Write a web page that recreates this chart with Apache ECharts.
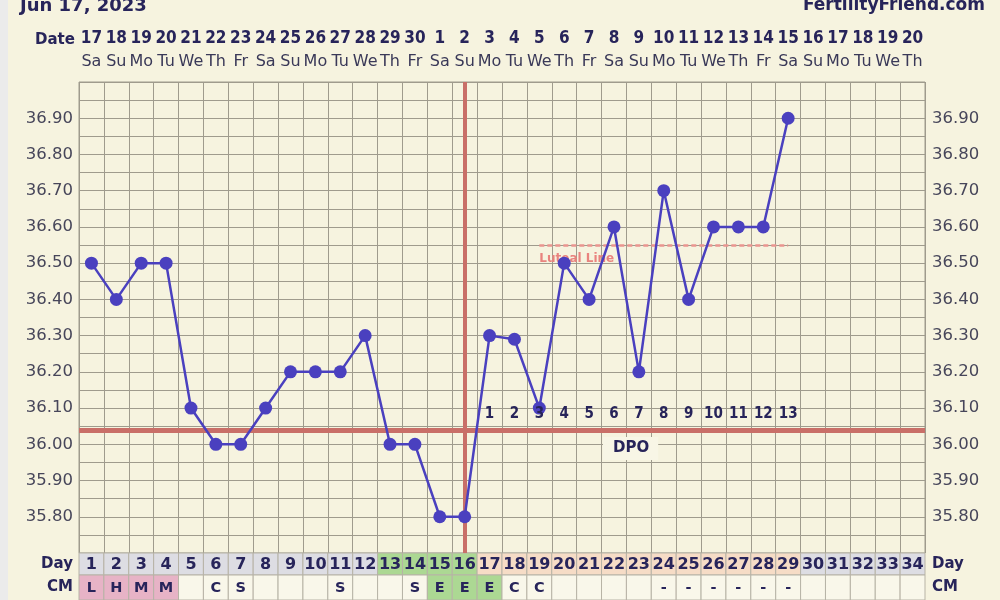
<!DOCTYPE html>
<html><head><meta charset="utf-8">
<script src="https://cdn.jsdelivr.net/npm/echarts@6/dist/echarts.min.js"></script>
<style>html,body{margin:0;padding:0;background:#f6f3df}#c{width:1000px;height:600px}</style>
</head><body><div id="c"></div>
<script>
// ---------- data ----------
const dayNumbers = ['1','2','3','4','5','6','7','8','9','10','11','12','13','14','15','16','17','18','19','20','21','22','23','24','25','26','27','28','29','30','31','32','33','34'];
const dates = ['17','18','19','20','21','22','23','24','25','26','27','28','29','30','1','2','3','4','5','6','7','8','9','10','11','12','13','14','15','16','17','18','19','20'];
const weekdays = ['Sa','Su','Mo','Tu','We','Th','Fr','Sa','Su','Mo','Tu','We','Th','Fr','Sa','Su','Mo','Tu','We','Th','Fr','Sa','Su','Mo','Tu','We','Th','Fr','Sa','Su','Mo','Tu','We','Th'];
const temps = [36.50,36.40,36.50,36.50,36.10,36.00,36.00,36.10,36.20,36.20,36.20,36.30,36.00,36.00,35.80,35.80,36.30,36.29,36.10,36.50,36.40,36.60,36.20,36.70,36.40,36.60,36.60,36.60,36.90];
const cmCodes = ['L','H','M','M','','C','S','','','','S','','','S','E','E','E','C','C','','','','','-','-','-','-','-','-','','','','',''];
const dayPhase = ['f','f','f','f','f','f','f','f','f','f','f','f','o','o','o','o','l','l','l','l','l','l','l','l','l','l','l','l','l','n','n','n','n','n'];
const coverline = 36.04;
const ovulationDay = '16';
const lutealLevel = 36.55;
const lutealFrom = '19';
const lutealTo = '29';
const dpoDays = ['17','18','19','20','21','22','23','24','25','26','27','28','29'];
const dpoLabels = ['1','2','3','4','5','6','7','8','9','10','11','12','13'];
const dpoLabelLevel = 36.082;
const yTickLabels = ['35.80','35.90','36.00','36.10','36.20','36.30','36.40','36.50','36.60','36.70','36.80','36.90'];
const yMin = 35.70, yMax = 37.00, yStep = 0.05;

// ---------- styles ----------
const NAVY = '#27245a';
const GRID = '#9f9b8d';
const FONT = 'DejaVu Sans';
const COND = "'DejaVu Sans Condensed', 'DejaVu Sans'";
const phaseColors = {f:'#dddde3', o:'#acd893', l:'#f6dcc6', n:'#dddde3'};
const cmColors = {L:'#e7b3c6', H:'#e7b3c6', M:'#e7b3c6', E:'#acd893'};
const cmBlank = '#f9f7ea';
const L = 79, R = 75;

const chart = echarts.init(document.getElementById('c'), null, {renderer:'canvas'});

function cellSeries(gridAxisX, gridAxisY, textOf, fillOf, fontSize){
  return {
    type:'custom', xAxisIndex:gridAxisX, yAxisIndex:gridAxisY, silent:true,
    data: dayNumbers.map((d,i)=>[i,0]),
    renderItem:function(params, api){
      const c = api.coord([api.value(0), 0]);
      const s = api.size([1,1]);
      const i = params.dataIndex;
      return {type:'group', children:[
        {type:'rect', shape:{x:c[0]-s[0]/2, y:c[1]-s[1]/2, width:s[0], height:s[1]},
         style:{fill:fillOf(i), stroke:'#b7b3a6', lineWidth:1}},
        {type:'text', style:{text:textOf(i), x:c[0], y:c[1]+1, align:'center', verticalAlign:'middle',
         fontSize:fontSize, fontWeight:'bold', fontFamily:FONT, fill:NAVY}}
      ]};
    }
  };
}

const rowYAxis = (gi, name, pos) => ({
  type:'category', gridIndex:gi, position:pos, data:[name],
  axisLine:{show:false}, axisTick:{show:false}, splitLine:{show:false},
  axisLabel:{color:NAVY, fontWeight:'bold', fontSize:15, fontFamily:FONT, margin: pos==='left'?6:7, align: pos==='left'?'right':'left'}
});

const yLabelFmt = v => { const s = (Math.round(v*100)/100).toFixed(2); return yTickLabels.indexOf(s) >= 0 ? s : ''; };
const mainY = pos => ({
  type:'value', gridIndex:0, position:pos, min:yMin, max:yMax, interval:yStep,
  axisLine:{show:false}, axisTick:{show:false},
  splitLine:{show: pos==='left', lineStyle:{color:GRID, width:1}},
  axisLabel:{formatter:yLabelFmt, color:'#47465a', fontSize:16.5, fontFamily:FONT, margin: pos==='left'?6:7}
});

const option = {
  animation:false,
  backgroundColor:'#f6f3df',
  textStyle:{fontFamily:FONT},
  grid:[
    {left:L, right:R, top:82, height:471, show:true, borderColor:GRID, borderWidth:1},
    {left:L, right:R, top:553, height:22},
    {left:L, right:R, top:575, height:25}
  ],
  xAxis:[
    {type:'category', gridIndex:0, data:dayNumbers, boundaryGap:true, position:'bottom',
     axisLine:{show:false}, axisTick:{show:false}, axisLabel:{show:false},
     splitLine:{show:true, interval:0, lineStyle:{color:GRID, width:1}}},
    {type:'category', gridIndex:0, data:dates, position:'top',
     axisLine:{show:false}, axisTick:{show:false}, splitLine:{show:false},
     axisLabel:{interval:0, margin:35, color:NAVY, fontWeight:'bold', fontSize:17, fontFamily:COND}},
    {type:'category', gridIndex:0, data:weekdays, position:'top',
     axisLine:{show:false}, axisTick:{show:false}, splitLine:{show:false},
     axisLabel:{interval:0, margin:12, color:'#3a3958', fontSize:16, fontFamily:FONT}},
    {type:'category', gridIndex:1, data:dayNumbers, show:false},
    {type:'category', gridIndex:2, data:dayNumbers, show:false}
  ],
  yAxis:[
    mainY('left'), mainY('right'),
    rowYAxis(1,'Day','left'), rowYAxis(1,'Day','right'),
    rowYAxis(2,'CM','left'), rowYAxis(2,'CM','right')
  ],
  graphic:[
    {type:'rect', left:0, top:0, shape:{width:8, height:600}, style:{fill:'#ebebeb'}, z:-1},
    {type:'text', left:20, top:-3, style:{text:'Jun 17, 2023', fontSize:18, fontWeight:'bold', fontFamily:FONT, fill:NAVY}},
    {type:'text', right:15, top:-3, style:{text:'FertilityFriend.com', fontSize:17, fontWeight:'bold', fontFamily:FONT, fill:NAVY}},
    {type:'text', left:35, top:33, style:{text:'Date', fontSize:15, fontWeight:'bold', fontFamily:FONT, fill:NAVY}},
    {type:'text', left:603, top:437, z:10, style:{text:'DPO', fontSize:15, fontWeight:'bold', fontFamily:FONT, fill:NAVY,
      backgroundColor:'#f8f6e6', padding:[4,9,4,10]}}
  ],
  series:[
    {type:'line', xAxisIndex:0, yAxisIndex:0, data:[], silent:true, z:2,
     markLine:{silent:true, symbol:['none','none'], animation:false,
       data:[
         {yAxis:coverline, lineStyle:{color:'#c96f68', width:5, type:'solid'}, label:{show:false}},
         {xAxis:ovulationDay, lineStyle:{color:'#c96f68', width:4, type:'solid'}, label:{show:false}},
         [{coord:[lutealFrom, lutealLevel], lineStyle:{color:'#ea9590', width:2.5, type:[5,3]},
           label:{show:true, formatter:'Luteal Line', position:'insideStartBottom', distance:[0,8],
                  color:'#e9837e', fontSize:12, fontWeight:'bold', fontFamily:FONT}},
          {coord:[lutealTo, lutealLevel]}]
       ]}},
    {type:'line', xAxisIndex:0, yAxisIndex:0, data:temps, z:5, silent:true,
     symbol:'circle', symbolSize:13, lineStyle:{color:'#4a40bf', width:2.5}, itemStyle:{color:'#4a40bf'}},
    {type:'scatter', xAxisIndex:0, yAxisIndex:0, z:6, silent:true, symbolSize:2,
     itemStyle:{color:'rgba(0,0,0,0)'},
     data: dpoDays.map((d,i)=>({value:[d, dpoLabelLevel], name:dpoLabels[i]})),
     label:{show:true, position:'inside', formatter:p=>p.name, color:NAVY, opacity:1,
            textBorderWidth:0, textBorderColor:'transparent', fontWeight:'bold', fontSize:15, fontFamily:COND}},
    cellSeries(3, 2, i=>dayNumbers[i], i=>phaseColors[dayPhase[i]], 16),
    cellSeries(4, 4, i=>cmCodes[i], i=>cmColors[cmCodes[i]] || cmBlank, 14.5)
  ]
};
chart.setOption(option);
</script></body></html>
